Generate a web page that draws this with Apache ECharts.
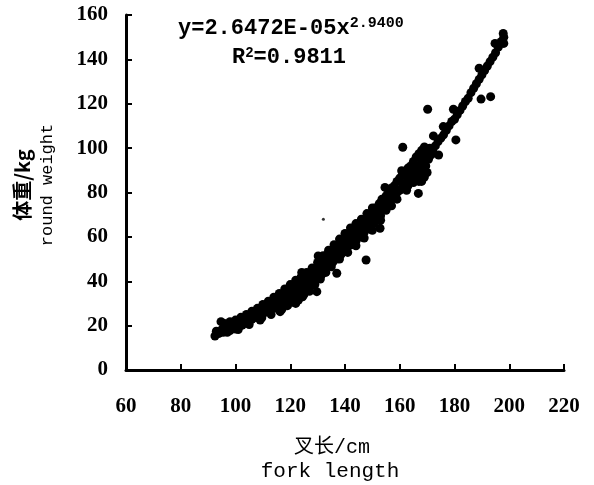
<!DOCTYPE html>
<html><head><meta charset="utf-8">
<script src="https://cdn.jsdelivr.net/npm/echarts@6/dist/echarts.min.js"></script>
<style>html,body{margin:0;padding:0;background:#fff}#c{width:594px;height:485px}</style>
</head><body><div id="c"></div>
<script>
var forkLength = [92.5,93,94,94.7,95,95.5,96,97,97.5,98,99.2,99.5,100,100.5,101,102,102.5,103,104,104.5,105,106,106,107,107.5,108,108.5,109.6,110,110.5,111,111.5,112,112.5,113,113.5,114,114.5,115,115,116,116.3,116.5,117,117.5,118,118.5,119,119.5,120,120,120.5,121,121.5,122,122,122.5,123,123.5,124,124.2,124.5,125,125.5,126,126.5,127,127.5,128,128,128.5,129,129.7,130,130,130.2,130.5,131,131.5,132,132,132.5,133,133.5,134,134.5,135,135.5,136,136,137,137,137.5,138,138.5,139,139.5,140,140,140.5,141,141.5,142,142.5,143,143.5,144,144.5,145,145.5,146,146.5,147,147.7,148,148.5,149,149.5,150,150.5,151,152,152.8,153,154,154.6,155,156,157,158,159,160,160.7,161.1,161,162,162.5,163,164,164.5,165,165.5,166,166.8,167,167.5,168,168,168.5,169,169,169.5,170,170,170.2,170.5,171,171.5,172.3,172,173,174,174.2,175,175.9,176,177,178,179,179.6,180,180.5,181,182,183,184,185,186,187,188,189,189,189.7,190,191,192,193.2,193,194,194.8,195,196,197,198,197.8,198];
var roundWeight = [15.3,17.5,16.5,21.8,18.2,17,19.5,18.5,20.5,17.8,21,19,18.5,20.8,19.6,21.5,20.2,22.8,21.5,23.5,22.4,24.5,22.8,25,23.8,26,24.5,23.5,27.5,25.8,28.5,26.8,29.5,27.2,30,28.4,31,29,30.5,27.8,32.5,26.3,30.5,33.5,29.5,32,35,31,34,36.5,31.5,33.5,38,32.5,35.5,30,37.5,34,39.5,36,44,33,38.5,41.5,36,40,43,38,45.5,41,39,43.5,35.3,46.5,41.5,51.4,44,48,43,46,50,44.5,48.5,52,47,50,53,48.5,51.5,55,43.6,50,53.5,56.5,52,55,58,53.5,57,60,55.5,58.5,62,56.5,60,63,58,61.5,64.5,60,63,66.5,62,49.6,65,68.5,63.5,67,70,66,69,72,63.9,69.5,73,82.3,72,75.5,74,78,77,81,89.8,100.4,82,84,81,86,85,88,84.5,90,87,79.6,92,88,94,85,90,96,87,92,98,89,117.5,95,100,97,105.5,99,101,103,96.9,104.5,109.7,106,108,110,112,117.5,113,103.7,115,117,119,121,122.5,125,127,129,136,131,122.1,133,135,137,123.2,139,141,147.2,143,145.5,148,147.2,151.7,150];
// further marks filling the upper and lower edges of the dense band
var bandEdgeX = [96,98,100,102,104,106,108,110,112,114,116,118,120,122,124,126,128,130,132,134,136,138,140,142,144,146,148,150,97,101,105,109,113,117,119,121,123,125,127,129,131,133,135,138,141,144,147,150,153,151,152.5,153.5,155,156,157,158,159,160,161,162,163,164,165,166,167,168,169,155,157,159,161,163,165,167,169];
var bandEdgeY = [21,21.8,22.5,23.8,25,26.5,27.8,29.5,31,32.8,34.5,36.5,38.5,40.5,42,44,46,48.5,51.5,54,56.5,59,61.5,64,66,68,70.5,73,17,18.2,20.5,22.5,25,27.5,29,30.5,31.5,34,35.5,38.5,41,44,46.5,50,53,56,59.5,63,67.5,73,75,77,78.5,80,82,83,85,86.5,88,89,91,92,94,96,97.5,99,100.5,75,77,80,84,83,87,85,90];
// one tiny stray mark
var strayX = [132.1];
var strayY = [67.9];
// fitted curve y = 2.6472E-05 x^2.9400, values tabulated by hand
var fitX = [92,96,100,104,108,112,116,120,124,128,132,136,140,144,148,152,156,160,164,168,172,176,180,184,188,192,196,198];
var fitY = [15.7,17.8,20.08,22.53,25.18,28.03,31.08,34.33,37.8,41.48,45.43,49.59,54.02,58.68,63.59,68.77,74.2,79.96,85.97,92.27,98.92,105.84,113.06,120.62,128.52,136.68,145.23,149.61];
var xTicks = [60,80,100,120,140,160,180,200,220];
var yTicks = [0,20,40,60,80,100,120,140,160];

function pairs(a, b){ return a.map(function(v,i){ return [v, b[i]]; }); }

var chart = echarts.init(document.getElementById('c'), null, {renderer:'canvas'});
var tickFont = {color:'#000', fontFamily:'Liberation Serif', fontWeight:'bold', fontSize:21};
var monoFont = '"Liberation Mono","Noto Sans CJK SC",monospace';
chart.setOption({
  animation:false,
  backgroundColor:'#fff',
  grid:{left:126, right:30, top:15, bottom:115},
  xAxis:{type:'value', min:xTicks[0], max:xTicks[xTicks.length-1], interval:20,
    axisLine:{lineStyle:{color:'#000', width:3}},
    axisTick:{inside:true, length:6, lineStyle:{color:'#000', width:2}},
    splitLine:{show:false},
    axisLabel:Object.assign({margin:26}, tickFont)},
  yAxis:{type:'value', min:yTicks[0], max:yTicks[yTicks.length-1], interval:20,
    axisLine:{show:true, lineStyle:{color:'#000', width:3}},
    axisTick:{show:true, inside:true, length:6, lineStyle:{color:'#000', width:2}},
    splitLine:{show:false},
    axisLabel:Object.assign({margin:18}, tickFont)},
  series:[
    {type:'scatter', data:pairs(forkLength, roundWeight), symbolSize:9, itemStyle:{color:'#000', opacity:1}},
    {type:'scatter', data:pairs(bandEdgeX, bandEdgeY), symbolSize:9, itemStyle:{color:'#000', opacity:1}},
    {type:'scatter', data:pairs(strayX, strayY), symbolSize:3, itemStyle:{color:'#000'}},
    {type:'line', data:pairs(fitX, fitY), smooth:true, showSymbol:false, lineStyle:{color:'#000', width:4}}
  ],
  graphic:[
    {type:'text', left:178, top:16, style:{
      text:'{m|y=2.6472E-05x}{s|2.9400}',
      rich:{m:{fontFamily:monoFont, fontWeight:'bold', fontSize:22, fill:'#000', verticalAlign:'bottom'},
            s:{fontFamily:monoFont, fontWeight:'bold', fontSize:15, fill:'#000', verticalAlign:'top', padding:[0,0,8,0]}}}},
    {type:'text', left:232, top:46, style:{
      text:'{m|R}{s|2}{m|=0.9811}',
      rich:{m:{fontFamily:monoFont, fontWeight:'bold', fontSize:22, fill:'#000'},
            s:{fontFamily:monoFont, fontWeight:'bold', fontSize:14, fill:'#000', padding:[0,0,8,0]}}}},
    {type:'text', x:22, y:185, rotation:Math.PI/2, style:{text:'体重/kg', font:'bold 20px "Noto Sans CJK SC", "Liberation Mono"', fill:'#000', align:'center', verticalAlign:'middle'}},
    {type:'text', x:47, y:185, rotation:Math.PI/2, style:{text:'round weight', font:'17px '+monoFont, fill:'#000', align:'center', verticalAlign:'middle'}},
    {type:'text', x:332, y:448, style:{text:'叉长/cm', font:'20px '+monoFont, fill:'#000', align:'center', verticalAlign:'middle'}},
    {type:'text', x:330, y:471, style:{text:'fork length', font:'21px '+monoFont, fill:'#000', align:'center', verticalAlign:'middle'}}
  ]
});
</script></body></html>
